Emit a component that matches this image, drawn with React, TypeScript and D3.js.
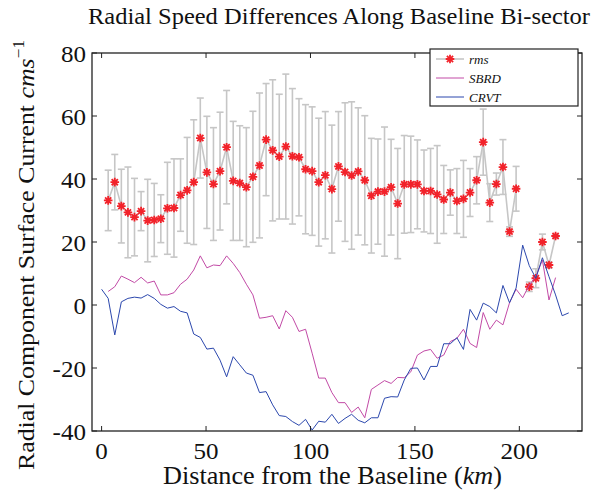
import React from 'react';
import * as d3 from 'd3';

// distance along the baseline (km), k = 0..71
const dist = [0, 3.15, 6.3, 9.45, 12.6, 15.75, 18.9, 22.05, 25.2, 28.35, 31.5, 34.65, 37.8, 40.95, 44.1, 47.25, 50.4, 53.55, 56.7, 59.85, 63, 66.15, 69.3, 72.45, 75.6, 78.75, 81.9, 85.05, 88.2, 91.35, 94.5, 97.65, 100.8, 103.95, 107.1, 110.25, 113.4, 116.55, 119.7, 122.85, 126, 129.15, 132.3, 135.45, 138.6, 141.75, 144.9, 148.05, 151.2, 154.35, 157.5, 160.65, 163.8, 166.95, 170.1, 173.25, 176.4, 179.55, 182.7, 185.85, 189, 192.15, 195.3, 198.45, 201.6, 204.75, 207.9, 211.05, 214.2, 217.35, 220.5, 223.65];

// rms (k = 1..69), NaN = missing
const rmsMean = [33.2, 39.0, 31.4, 29.4, 27.9, 29.8, 26.8, 27.0, 27.4, 30.7, 30.8, 34.9, 36.4, 39.0, 53.0, 42.1, 38.4, 42.5, 50.1, 39.4, 38.7, 37.4, 40.7, 44.3, 52.5, 49.1, 47.1, 50.3, 47.2, 46.9, 43.1, 42.5, 39.0, 41.2, 36.8, 44.0, 42.2, 41.1, 42.4, 39.6, 34.7, 36.0, 36.0, 37.4, 32.2, 38.3, 38.3, 38.3, 36.2, 36.2, 35.1, 33.5, 35.7, 33.0, 33.7, 35.7, 39.6, 51.7, 32.5, 38.4, 43.8, 23.3, 36.9, NaN, 5.8, 8.5, 20.0, 12.7, 21.9];
const rmsErr = [9.6, 8.8, 11.7, 14.4, 12.3, 6.2, 13.1, 11.6, 7.6, 14.6, 15.6, 11.5, 16.8, 19.8, 12.7, 17.8, 17.9, 18.7, 18.0, 18.9, 18.2, 18.9, 20.8, 23.0, 17.8, 22.4, 19.8, 23.0, 21.5, 18.6, 20.5, 20.4, 20.3, 20.2, 20.3, 17.4, 22.0, 23.4, 20.2, 20.5, 18.2, 16.7, 20.5, 15.2, 17.5, 15.5, 15.3, 14.1, 13.0, 13.5, 15.5, 10.8, 7.2, 10.3, 12.2, 7.6, 7.5, 10.5, 6.0, 3.5, 8.7, 1.5, 7.1, NaN, 1.5, 3.0, 2.5, 1.0, 0.5];

// SBRD (k = 1..69)
const sbrd = [4.3, 5.8, 9.2, 8.2, 7.1, 8.8, 7.0, 7.6, 3.2, 3.2, 3.9, 6.6, 8.2, 11.1, 15.6, 11.8, 12.7, 12.5, 15.6, 13.2, 10.3, 6.6, 3.2, -4.2, -3.9, -3.4, -7.6, -1.8, -3.9, -8.4, -7.7, -15.3, -23.2, -23.2, -27.8, -31.0, -31.0, -34.1, -32.4, -35.8, -26.8, -25.4, -24.0, -24.9, -23.0, -23.1, -21.2, -15.9, -14.6, -14.1, -16.9, -15.9, -11.6, -10.6, -7.7, -12.2, -13.5, -2.4, -7.7, -4.8, -6.3, 0.7, 5.0, 2.3, 6.3, 9.0, 14.3, 1.6, 8.7];

// CRVT (k = 0..71)
const crvt = [5.0, 2.1, -9.5, 1.0, 2.1, 2.5, 2.2, 3.3, 2.1, 0.2, -1.0, -0.5, -2.0, -2.5, -9.2, -10.3, -14.0, -13.7, -17.5, -22.8, -16.4, -19.0, -21.6, -22.3, -27.8, -27.5, -31.7, -35.1, -35.4, -37.0, -38.2, -36.3, -39.7, -36.9, -37.2, -34.7, -37.6, -36.0, -34.7, -36.6, -37.4, -35.8, -35.8, -29.6, -29.1, -29.2, -23.8, -20.1, -20.0, -23.8, -19.5, -19.5, -12.3, -12.3, -10.4, -14.1, -1.4, -4.8, 0.6, -0.5, -2.5, 6.2, 0.7, 5.4, 19.0, 12.5, 8.5, 15.0, 9.0, 3.2, -3.4, -2.5];

const xTicks = [0, 50, 100, 150, 200];
const yTicks = [-40, -20, 0, 20, 40, 60, 80];
const legendLabels = ['rms', 'SBRD', 'CRVT'];

const W = 612, H = 490;
const L = 92, R = 582, T = 53, B = 431;
const FONT = "'Liberation Serif', 'Times New Roman', Times, serif";
const GRAY = '#c6c6c6';
const RED = '#f2222a';
const MAG = '#c24aa6';
const BLUE = '#2b47ad';

function starPath(r: number) {
  const d = r * 0.72;
  return `M0,${-r}V${r}M${-r},0H${r}M${-d},${-d}L${d},${d}M${-d},${d}L${d},${-d}`;
}

export default function App() {
  const x = d3.scaleLinear().domain([-4.6, 230]).range([L, R]);
  const y = d3.scaleLinear().domain([-40, 80]).range([B, T]);

  type P = [number, number];
  const rmsPts: P[] = rmsMean.map((v, i) => [dist[i + 1], v]);
  const sbrdPts: P[] = sbrd.map((v, i) => [dist[i + 1], v]);
  const crvtPts: P[] = crvt.map((v, i) => [dist[i], v]);

  const line = d3
    .line<P>()
    .defined((d) => !isNaN(d[1]))
    .x((d) => x(d[0]))
    .y((d) => y(d[1]));

  const star = starPath(4.3);

  const lg = { x: 430, y: 49, w: 148, h: 57 };
  const rowY = [59, 78, 97];
  const legendColors = [GRAY, MAG, BLUE];
  const tickSX = 1.09;

  return (
    <svg
      width={W}
      height={H}
      viewBox={`0 0 ${W} ${H}`}
      style={{ position: 'absolute', left: 0, top: 0, background: '#fff', fontFamily: FONT }}
    >
      <rect x={0} y={0} width={W} height={H} fill="#fff" />
      <defs>
        <clipPath id="plotclip">
          <rect x={L} y={T} width={R - L} height={B - T} />
        </clipPath>
      </defs>

      {/* title */}
      <text x={88} y={24} fontSize={23.5} fill="#111" textLength={502} lengthAdjust="spacingAndGlyphs">
        Radial Speed Differences Along Baseline Bi-sector
      </text>

      <g clipPath="url(#plotclip)">
        <g stroke={GRAY} strokeWidth={1.6} fill="none">
          {rmsPts.map((d, i) => {
            if (isNaN(d[1])) return null;
            const cx = x(d[0]);
            const y1 = y(d[1] - rmsErr[i]);
            const y2 = y(d[1] + rmsErr[i]);
            return (
              <g key={i}>
                <line x1={cx} x2={cx} y1={y1} y2={y2} />
                <line x1={cx - 3.5} x2={cx + 3.5} y1={y1} y2={y1} />
                <line x1={cx - 3.5} x2={cx + 3.5} y1={y2} y2={y2} />
              </g>
            );
          })}
        </g>
        <path d={line(rmsPts) || ''} fill="none" stroke={GRAY} strokeWidth={1.6} />
        <g stroke={RED} strokeWidth={1.8} fill="none">
          {rmsPts.map((d, i) =>
            isNaN(d[1]) ? null : (
              <path key={i} d={star} transform={`translate(${x(d[0])},${y(d[1])})`} />
            )
          )}
        </g>
        <path d={line(sbrdPts) || ''} fill="none" stroke={MAG} strokeWidth={1} />
        <path d={line(crvtPts) || ''} fill="none" stroke={BLUE} strokeWidth={1} />
      </g>

      {/* axes box */}
      <rect x={L} y={T} width={R - L} height={B - T} fill="none" stroke="#222" strokeWidth={1.3} />
      <g stroke="#222" strokeWidth={1}>
        {xTicks.map((t) => (
          <g key={t}>
            <line x1={x(t)} x2={x(t)} y1={B} y2={B - 5} />
            <line x1={x(t)} x2={x(t)} y1={T} y2={T + 5} />
          </g>
        ))}
        {yTicks.map((t) => (
          <g key={t}>
            <line x1={L} x2={L + 5} y1={y(t)} y2={y(t)} />
            <line x1={R} x2={R - 5} y1={y(t)} y2={y(t)} />
          </g>
        ))}
      </g>
      <g fontSize={23} fill="#111">
        {xTicks.map((t) => (
          <text key={t} transform={`translate(${x(t)},459) scale(${tickSX},1)`} textAnchor="middle">
            {t}
          </text>
        ))}
        {yTicks.map((t) => (
          <text key={t} transform={`translate(86,${y(t) + 8.5}) scale(${tickSX},1)`} textAnchor="end">
            {t}
          </text>
        ))}
      </g>

      {/* axis labels */}
      <text x={163} y={484} fontSize={24.5} fill="#111" textLength={339} lengthAdjust="spacingAndGlyphs">
        Distance from the Baseline (<tspan fontStyle="italic">km</tspan>)
      </text>
      <text
        transform={`translate(34,470) rotate(-90)`}
        fontSize={24}
        fill="#111"
        textLength={430}
        lengthAdjust="spacingAndGlyphs"
      >
        Radial Component Surface Current <tspan fontStyle="italic">cms</tspan>
        <tspan fontSize={16} dy={-10}>−1</tspan>
      </text>

      {/* legend */}
      <rect x={lg.x} y={lg.y} width={lg.w} height={lg.h} fill="#fff" stroke="#222" strokeWidth={1.2} />
      {legendLabels.map((lab, i) => (
        <g key={lab}>
          <line x1={436} x2={464} y1={rowY[i]} y2={rowY[i]} stroke={legendColors[i]} strokeWidth={i === 0 ? 1.6 : 1} />
          {i === 0 && (
            <path d={star} transform={`translate(450,${rowY[i]})`} stroke={RED} strokeWidth={1.8} fill="none" />
          )}
          <text x={469} y={rowY[i] + 4.5} fontSize={13} fontStyle="italic" fill="#111">
            {lab}
          </text>
        </g>
      ))}
    </svg>
  );
}
